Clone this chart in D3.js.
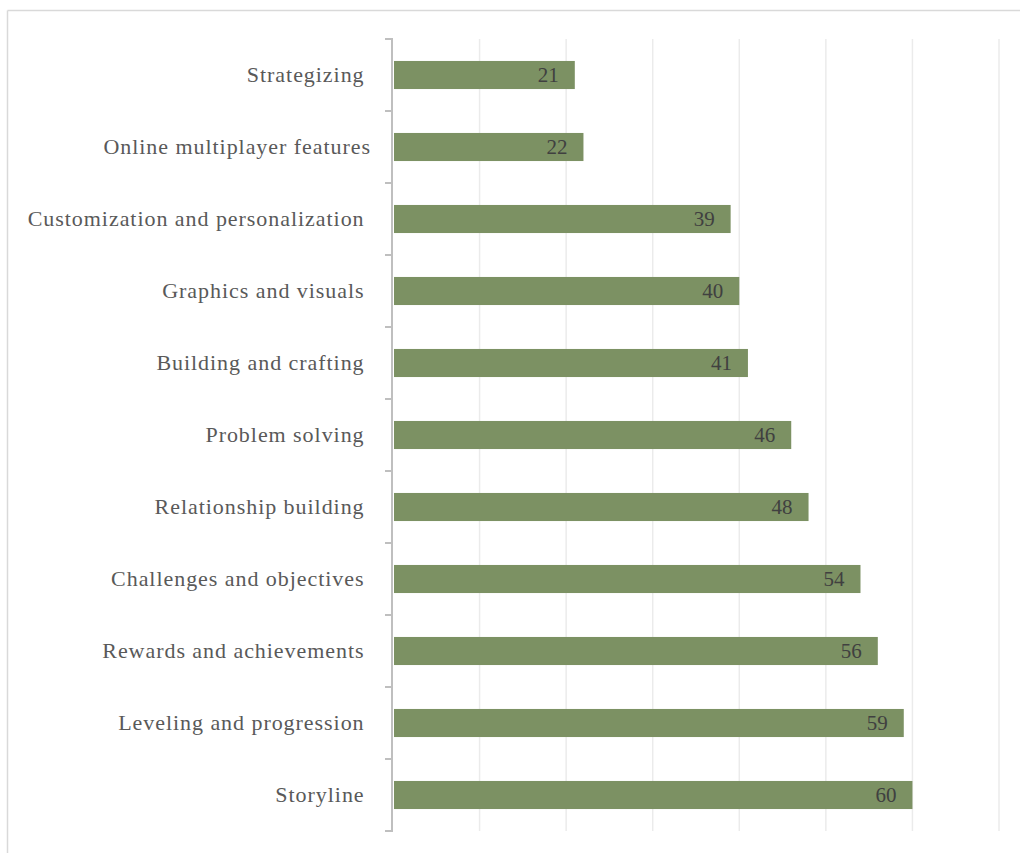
<!DOCTYPE html>
<html>
<head>
<meta charset="utf-8">
<script src="https://cdn.jsdelivr.net/npm/d3@7"></script>
<style>
  html, body { margin: 0; padding: 0; background: #fff; }
  svg text { font-family: "Liberation Serif", "DejaVu Serif", serif; white-space: pre; }
</style>
</head>
<body>
<svg id="chart" width="1020" height="853"></svg>
<script>
// Feature categories, top to bottom
const categories = [
  "Strategizing ",
  "Online multiplayer features",
  "Customization and personalization ",
  "Graphics and visuals ",
  "Building and crafting ",
  "Problem solving ",
  "Relationship building ",
  "Challenges and objectives ",
  "Rewards and achievements ",
  "Leveling and progression ",
  "Storyline "
];
const values = [21, 22, 39, 40, 41, 46, 48, 54, 56, 59, 60];
const xTicks = [0, 10, 20, 30, 40, 50, 60, 70];

const data = categories.map((c, i) => ({ category: c, value: values[i] }));

const svg = d3.select("#chart");

// outer frame (top and left edges)
svg.append("line").attr("x1", 7.5).attr("x2", 1020).attr("y1", 10.5).attr("y2", 10.5)
  .attr("stroke", "#d9d9d9").attr("stroke-width", 1.5);
svg.append("line").attr("x1", 7.5).attr("x2", 7.5).attr("y1", 10.5).attr("y2", 853)
  .attr("stroke", "#d9d9d9").attr("stroke-width", 1.5);

const x = d3.scaleLinear().domain([0, 70]).range([393, 999]);
const y = d3.scaleBand().domain(categories).range([39, 831]).paddingInner(0.61).paddingOuter(0.305);
const band = d3.scaleBand().domain(categories).range([39, 831]);

// vertical gridlines
svg.append("g").selectAll("line").data(xTicks.slice(1)).join("line")
  .attr("x1", d => x(d)).attr("x2", d => x(d))
  .attr("y1", 39).attr("y2", 831)
  .attr("stroke", "#ebebeb").attr("stroke-width", 1.5);

// bars
svg.append("g").selectAll("rect").data(data).join("rect")
  .attr("x", x(0) + 1)
  .attr("y", d => y(d.category))
  .attr("width", d => x(d.value) - x(0) - 1)
  .attr("height", y.bandwidth())
  .attr("fill", "#7c9163");

// value labels inside bar ends
svg.append("g").selectAll("text").data(data).join("text")
  .attr("x", d => x(d.value) - 16)
  .attr("y", d => y(d.category) + y.bandwidth() / 2)
  .attr("dy", "0.32em")
  .attr("text-anchor", "end")
  .attr("font-size", 21)
  .attr("fill", "#404040")
  .text(d => d.value);

// category axis with ticks at band boundaries
const axisG = svg.append("g");
axisG.append("line").attr("x1", 392).attr("x2", 392).attr("y1", 39).attr("y2", 831)
  .attr("stroke", "#bfbfbf").attr("stroke-width", 2);
const bounds = categories.map(c => band(c)).concat([band.range()[1]]);
axisG.selectAll("line.tick").data(bounds).join("line").attr("class", "tick")
  .attr("x1", 385).attr("x2", 393)
  .attr("y1", d => d).attr("y2", d => d)
  .attr("stroke", "#bfbfbf").attr("stroke-width", 2);

// category labels
svg.append("g").selectAll("text").data(data).join("text")
  .attr("x", 371)
  .attr("y", d => y(d.category) + y.bandwidth() / 2)
  .attr("dy", "0.3em")
  .attr("text-anchor", "end")
  .attr("font-size", 22)
  .attr("letter-spacing", "0.95px")
  .attr("fill", "#595959")
  .text(d => d.category);
</script>
</body>
</html>
